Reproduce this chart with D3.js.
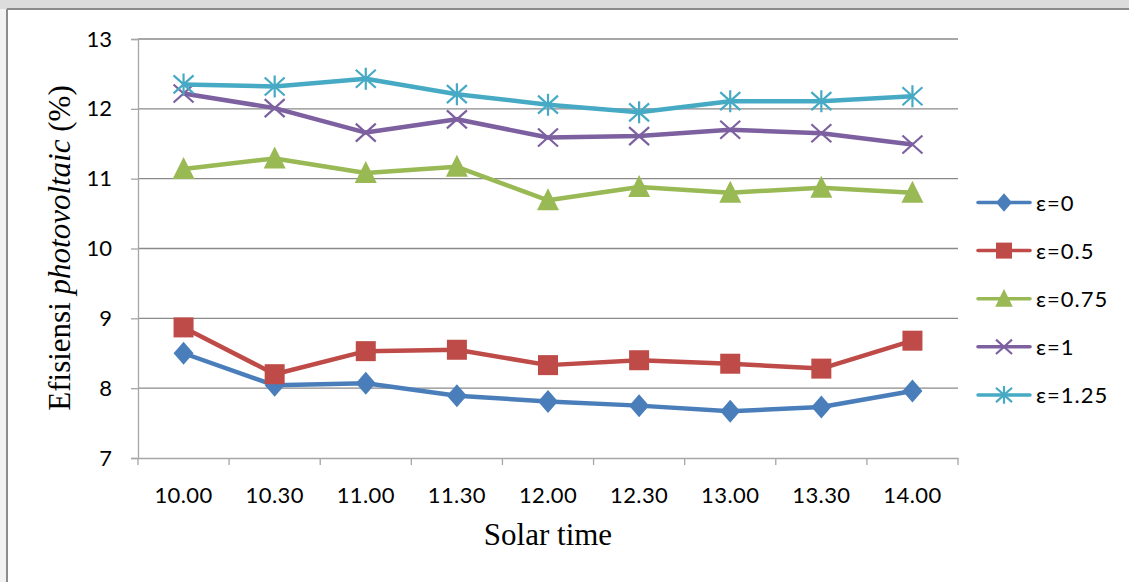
<!DOCTYPE html>
<html>
<head>
<meta charset="utf-8">
<script src="https://cdn.jsdelivr.net/npm/d3@7"></script>
<style>
  body { margin: 0; background: #fff; }
  svg { display: block; }
  .tick text { font-family: Lato, "Open Sans", sans-serif; fill: #000; }
</style>
</head>
<body>
<svg id="chart" width="1129" height="582"></svg>
<script>
const times = ['10.00', '10.30', '11.00', '11.30', '12.00', '12.30', '13.00', '13.30', '14.00'];
const yTicks = [7, 8, 9, 10, 11, 12, 13];

const eps0 = [8.50, 8.04, 8.07, 7.89, 7.81, 7.75, 7.67, 7.73, 7.96];
const eps05 = [8.87, 8.20, 8.53, 8.55, 8.33, 8.40, 8.35, 8.28, 8.68];
const eps075 = [11.14, 11.29, 11.08, 11.17, 10.69, 10.88, 10.80, 10.87, 10.80];
const eps1 = [12.22, 12.01, 11.66, 11.85, 11.59, 11.61, 11.70, 11.65, 11.49];
const eps125 = [12.35, 12.32, 12.43, 12.21, 12.06, 11.95, 12.11, 12.11, 12.18];

const seriesNames = ['ε=0', 'ε=0.5', 'ε=0.75', 'ε=1', 'ε=1.25'];
const seriesValues = [eps0, eps05, eps075, eps1, eps125];
const seriesColors = ['#4a7ebb', '#be4b48', '#98b954', '#7d60a0', '#46aac5'];
const seriesMarkers = ['diamond', 'square', 'triangle', 'cross', 'asterisk'];

const svg = d3.select('#chart');

// frame / background bits
svg.append('rect').attr('x', 0).attr('y', 0).attr('width', 1129).attr('height', 9).attr('fill', '#dcdcdc');
svg.append('rect').attr('x', 0).attr('y', 9).attr('width', 7).attr('height', 573).attr('fill', '#f2f2f2');
svg.append('line').attr('x1', 7).attr('x2', 1129).attr('y1', 9).attr('y2', 9)
  .attr('stroke', '#8c8c8c').attr('stroke-width', 2);
svg.append('line').attr('x1', 7).attr('x2', 7).attr('y1', 9).attr('y2', 582)
  .attr('stroke', '#8c8c8c').attr('stroke-width', 2);

const plotLeft = 138, plotRight = 958, plotTop = 39, plotBottom = 458;

const x = d3.scaleBand().domain(times).range([plotLeft, plotRight]);
const y = d3.scaleLinear().domain([7, 13]).range([plotBottom, plotTop]);

// gridlines
svg.append('g')
  .selectAll('line')
  .data(yTicks.slice(1))
  .enter()
  .append('line')
  .attr('x1', plotLeft)
  .attr('x2', plotRight)
  .attr('y1', (d) => y(d))
  .attr('y2', (d) => y(d))
  .attr('stroke', '#8a8a8a')
  .attr('stroke-width', 1.3);

// y axis
const yAxis = svg.append('g')
  .attr('transform', `translate(${plotLeft},0)`)
  .call(d3.axisLeft(y).tickValues(yTicks).tickFormat(d3.format('d')).tickSize(7).tickPadding(19));
yAxis.selectAll('text').attr('font-size', 22);

// x axis, ticks sit at the band boundaries
const xAxis = svg.append('g')
  .attr('transform', `translate(0,${plotBottom})`)
  .call(d3.axisBottom(x).tickSize(0).tickPadding(29));
xAxis.selectAll('text').attr('font-size', 22).attr('letter-spacing', 0.4);
xAxis.append('g')
  .selectAll('line')
  .data(d3.range(times.length + 1))
  .enter()
  .append('line')
  .attr('x1', (i) => plotLeft + i * x.step())
  .attr('x2', (i) => plotLeft + i * x.step())
  .attr('y1', 0)
  .attr('y2', 7)
  .attr('stroke', '#a6a6a6')
  .attr('stroke-width', 1.3);

svg.selectAll('.domain').attr('stroke', '#a6a6a6').attr('stroke-width', 1.3);
svg.selectAll('.tick line').attr('stroke', '#a6a6a6').attr('stroke-width', 1.3);

// axis titles
svg.append('text')
  .text('Solar time')
  .attr('x', 548)
  .attr('y', 545)
  .attr('text-anchor', 'middle')
  .attr('font-family', '"Liberation Serif", "Times New Roman", serif')
  .attr('font-size', 31);

const yTitle = svg.append('text')
  .attr('transform', 'translate(70,248) rotate(-90)')
  .attr('text-anchor', 'middle')
  .attr('font-family', '"Liberation Serif", "Times New Roman", serif')
  .attr('font-size', 31);
yTitle.append('tspan').text('Efisiensi ');
yTitle.append('tspan').text('photovoltaic').attr('font-style', 'italic');
yTitle.append('tspan').text(' (%)');

// markers
const drawMarker = (g, type, color, k) => {
  if (type === 'diamond') {
    g.append('path').attr('d', `M0,${-11.5 * k}L${10 * k},0L0,${11.5 * k}L${-10 * k},0Z`).attr('fill', color);
  } else if (type === 'square') {
    g.append('rect').attr('x', -10 * k).attr('y', -10 * k).attr('width', 20 * k).attr('height', 20 * k).attr('fill', color);
  } else if (type === 'triangle') {
    g.append('path').attr('d', `M0,${-12 * k}L${11 * k},${10 * k}L${-11 * k},${10 * k}Z`).attr('fill', color);
  } else if (type === 'cross') {
    g.append('path').attr('d', `M${-10 * k},${-9 * k}L${10 * k},${9 * k}M${-10 * k},${9 * k}L${10 * k},${-9 * k}`)
      .attr('stroke', color).attr('stroke-width', 2.2);
  } else {
    g.append('path')
      .attr('d', `M${-10 * k},${-9 * k}L${10 * k},${9 * k}M${-10 * k},${9 * k}L${10 * k},${-9 * k}M0,${-11 * k}L0,${11 * k}`)
      .attr('stroke', color).attr('stroke-width', 2.2);
  }
};

const line = d3.line()
  .x((d, i) => x(times[i]) + x.bandwidth() / 2)
  .y((d) => y(d));

seriesValues.forEach((values, s) => {
  const g = svg.append('g');
  g.append('path')
    .datum(values)
    .attr('d', line)
    .attr('fill', 'none')
    .attr('stroke', seriesColors[s])
    .attr('stroke-width', 4.5)
    .attr('stroke-linejoin', 'round');
  g.selectAll('g')
    .data(values)
    .enter()
    .append('g')
    .attr('transform', (d, i) => `translate(${x(times[i]) + x.bandwidth() / 2},${y(d)})`)
    .each(function () { drawMarker(d3.select(this), seriesMarkers[s], seriesColors[s], 1); });
});

// legend
const legend = svg.append('g');
seriesNames.forEach((name, i) => {
  const ly = 202.5 + i * 48.1;
  const item = legend.append('g').attr('transform', `translate(1004,${ly})`);
  item.append('line')
    .attr('x1', -26).attr('x2', 26).attr('y1', 0).attr('y2', 0)
    .attr('stroke', seriesColors[i]).attr('stroke-width', 3.5).attr('stroke-linecap', 'round');
  drawMarker(item, seriesMarkers[i], seriesColors[i], 0.8);
  legend.append('text')
    .text(name)
    .attr('x', 1036)
    .attr('y', ly + 8)
    .attr('font-family', 'Lato, "Open Sans", sans-serif')
    .attr('font-size', 22)
    .attr('letter-spacing', 1);
});
</script>
</body>
</html>
